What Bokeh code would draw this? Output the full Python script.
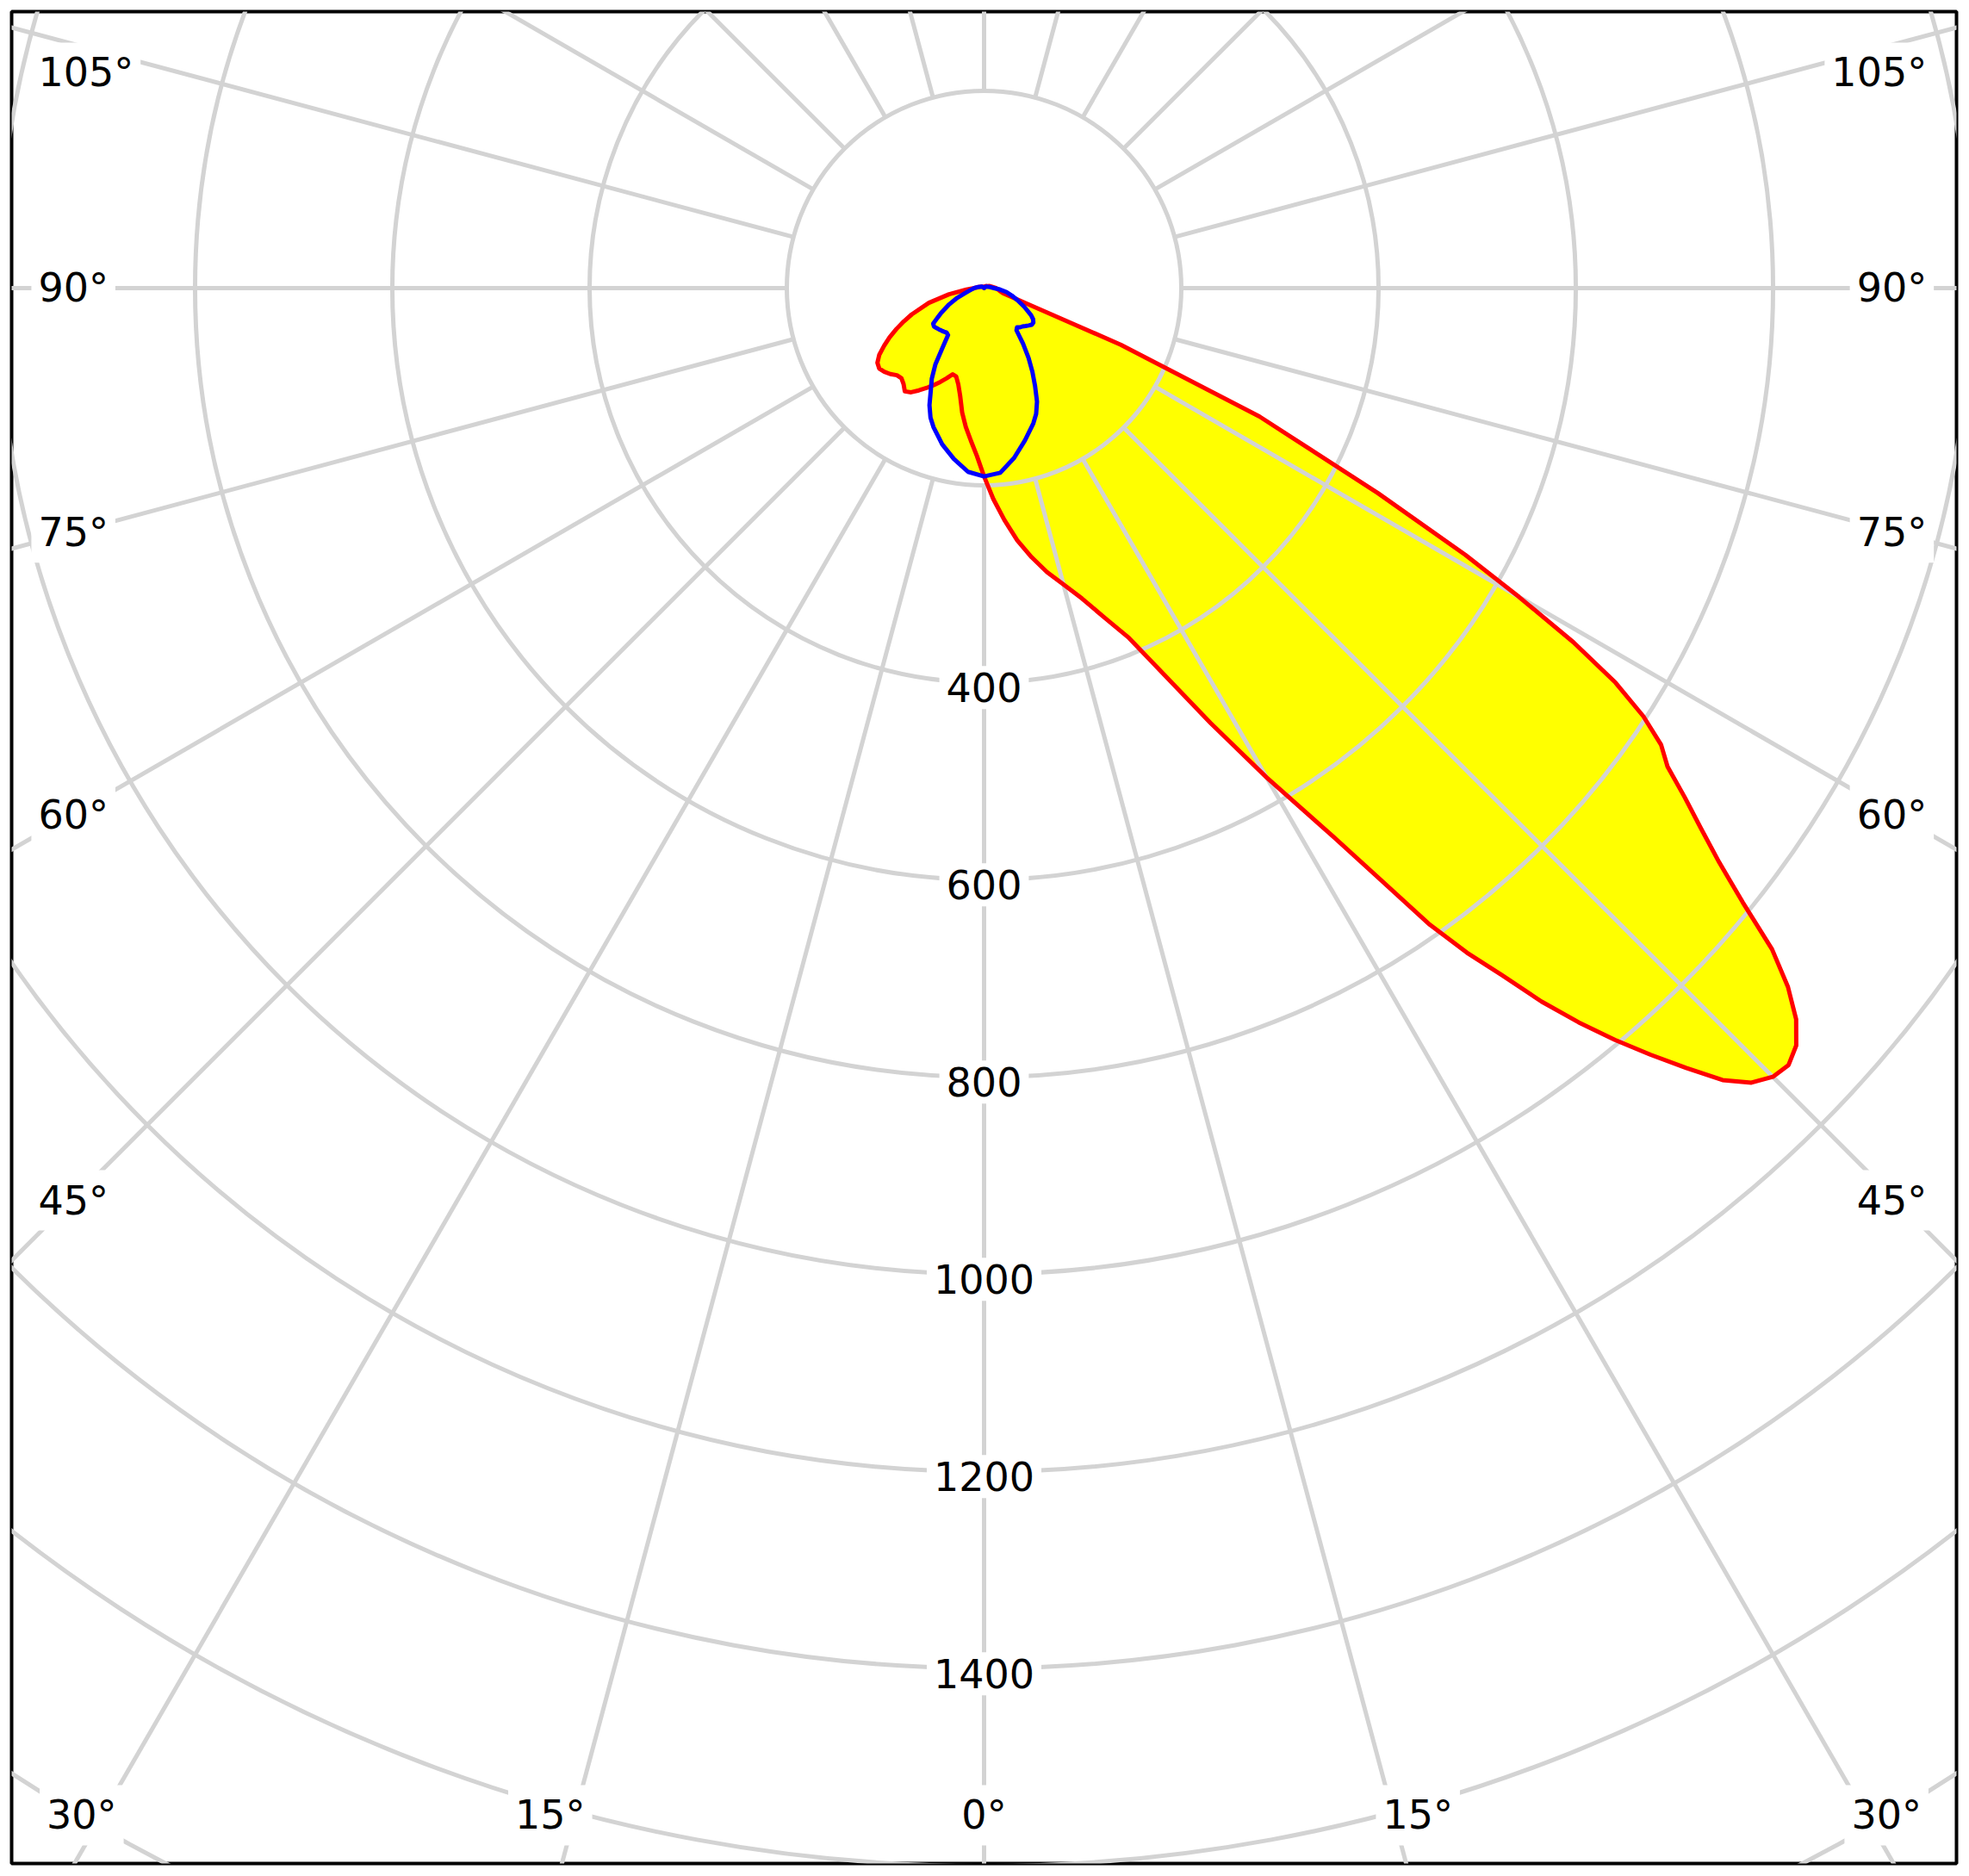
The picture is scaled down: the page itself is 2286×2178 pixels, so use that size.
import numpy as np
from bokeh.plotting import figure
from bokeh.models import Range1d
from bokeh.core.properties import value
from bokeh.embed import file_html
from bokeh.resources import INLINE

# ---- luminous intensity data (cd/klm), gamma measured from straight down ----
# C0 plane (red, right half)
c0_gamma = [0, 2.5, 5, 7.5, 10, 12.5, 15, 17.5, 20, 22.5, 25, 27.5, 30, 32.5, 35,
            36, 37, 38, 39, 40, 41, 42, 43, 44, 45, 46, 47, 48, 49, 50, 51, 52, 53,
            54, 55, 56, 57, 58, 59, 60, 61, 62.5, 65, 67.5, 70,
            75, 80, 85, 90, 100, 110, 120, 135, 150, 165, 180]
c0_value = [191, 214, 236, 258, 277, 295, 311, 330, 355, 384, 433, 497, 573, 660, 788,
            833, 872, 918, 958, 995, 1030, 1064, 1098, 1120, 1131, 1134, 1126, 1108, 1080, 1043, 990, 946, 910,
            878, 846, 828, 797, 755, 697, 626, 558, 450, 308, 150, 45,
            20, 16, 14, 12, 8, 6, 4, 3, 2, 1, 0]
# C180 plane (red, left half)
c180_gamma = [0, 2.5, 5, 7.5, 10, 12.5, 15, 17.5, 20, 22.5, 25, 27.5, 30, 32.5, 35,
              37.5, 40, 42.5, 45, 47.5, 50, 52.5, 55, 57.5, 60, 62.5, 65, 67.5, 70,
              75, 80, 85, 90, 100, 110, 120, 135, 150, 165, 180]
c180_value = [191, 170, 155, 142, 128, 112, 101, 94, 93, 99, 105, 111, 117, 123, 129,
              132, 127, 124, 125, 129, 132, 134, 132, 126, 117, 108, 98, 88, 78,
              58, 36, 18, 10, 6, 4, 3, 2, 1, 0.5, 0]
# C90 plane (blue, right half)
c90_gamma = [0, 5, 10, 15, 20, 22.5, 25, 27.5, 30, 32.5, 35, 37.5, 40, 42.5, 45, 47.5,
             50, 52.5, 55, 57.5, 60, 65, 70, 75, 80, 85, 90, 100, 120, 150, 180]
c90_value = [191, 188, 175, 160, 146, 138, 127, 112, 98, 84, 69, 54, 52, 54, 55, 57,
             59, 61, 61, 59, 55, 45, 36, 29, 23, 16, 10, 6, 3, 1, 0]
# C270 plane (blue, left half)
c270_gamma = [0, 5, 10, 15, 20, 22.5, 25, 27.5, 30, 32.5, 35, 37.5, 40, 42.5, 45, 47.5,
              50, 52.5, 55, 57.5, 60, 65, 70, 75, 80, 85, 90, 100, 120, 150, 180]
c270_value = [191, 187, 176, 164, 150, 142, 131, 117, 106, 92, 73, 60, 59, 60, 61, 62,
              63, 64, 63, 56, 50, 39, 29, 20, 15, 12, 10, 6, 3, 1, 0]

# ---- grid / tick definitions ----
grid_circles = [200, 400, 600, 800, 1000, 1200, 1400, 1600, 1800, 2000]
radial_ticks = [400, 600, 800, 1000, 1200, 1400]
side_angles = [105, 90, 75, 60, 45]
bottom_angles = [-30, -15, 0, 15, 30]
spoke_step = 15

FONT = value("DejaVu Sans")
FS = "46px"
GRID = "#d3d3d3"
LW = 5


def half(gamma, vals, side):
    g = np.radians(np.asarray(gamma, float))
    v = np.asarray(vals, float)
    return side * v * np.sin(g), -v * np.cos(g)


def outline(rg, rv, lg, lv):
    xr, yr = half(rg, rv, 1)
    xl, yl = half(lg, lv, -1)
    return np.concatenate([xr, xl[::-1]]), np.concatenate([yr, yl[::-1]])


red_x, red_y = outline(c0_gamma, c0_value, c180_gamma, c180_value)
blue_x, blue_y = outline(c90_gamma, c90_value, c270_gamma, c270_value)

x_lo, x_hi = -986, 986
y_lo, y_hi = -1597.4, 280.3

p = figure(frame_width=2258, frame_height=2150,
           x_range=Range1d(x_lo, x_hi), y_range=Range1d(y_lo, y_hi),
           x_axis_type=None, y_axis_type=None,
           toolbar_location=None, output_backend="svg",
           min_border_left=13, min_border_top=13, min_border_right=6, min_border_bottom=6,
           outline_line_color="black", outline_line_width=4,
           background_fill_color="white", border_fill_color="white")

# yellow fills
p.patch(red_x, red_y, fill_color="#ffff00", line_color=None)
p.patch(blue_x, blue_y, fill_color="#ffff00", line_color=None)

# grid circles
p.circle(x=[0] * len(grid_circles), y=[0] * len(grid_circles), radius=grid_circles,
         fill_color=None, line_color=GRID, line_width=LW)

# spokes
ang = np.radians(np.arange(0, 360, spoke_step))
r0, r1 = grid_circles[0], 2600
p.segment(x0=r0 * np.sin(ang), y0=-r0 * np.cos(ang),
          x1=r1 * np.sin(ang), y1=-r1 * np.cos(ang),
          line_color=GRID, line_width=LW)

# curve outlines
p.patch(red_x, red_y, fill_color=None, line_color="#ff0000", line_width=LW, line_join="round")
p.patch(blue_x, blue_y, fill_color=None, line_color="#0000ff", line_width=LW, line_join="round")

text_kw = dict(text_font=FONT, text_font_size=FS, text_color="black",
               text_baseline="middle", background_fill_color="white", padding=8)

# radial value labels on the 0° spoke
p.text(x=[0] * len(radial_ticks), y=[-r - 5 for r in radial_ticks],
       text=[str(r) for r in radial_ticks], text_align="center", **text_kw)

# side angle labels
side_x = 925
left_edge = x_lo + 20
right_edge = x_hi - 23
ys = [min(-side_x / np.tan(np.radians(a)) if a != 90 else 0.0, y_hi - 62) for a in side_angles]
labs = [f"{a}°" for a in side_angles]
p.text(x=[left_edge] * len(side_angles), y=ys, text=labs, text_align="left", **text_kw)
p.text(x=[right_edge] * len(side_angles), y=ys, text=labs, text_align="right", **text_kw)

# bottom angle labels
yb = y_lo + 49
bx = [np.sign(a) * (abs(yb) * np.tan(np.radians(abs(a))) + (25 if abs(a) == 15 else 21))
      if a != 0 else 0.0 for a in bottom_angles]
p.text(x=bx, y=[yb] * len(bottom_angles), text=[f"{abs(a)}°" for a in bottom_angles],
       text_align="center", **text_kw)

open("out.html", "w").write(file_html(p, INLINE))
